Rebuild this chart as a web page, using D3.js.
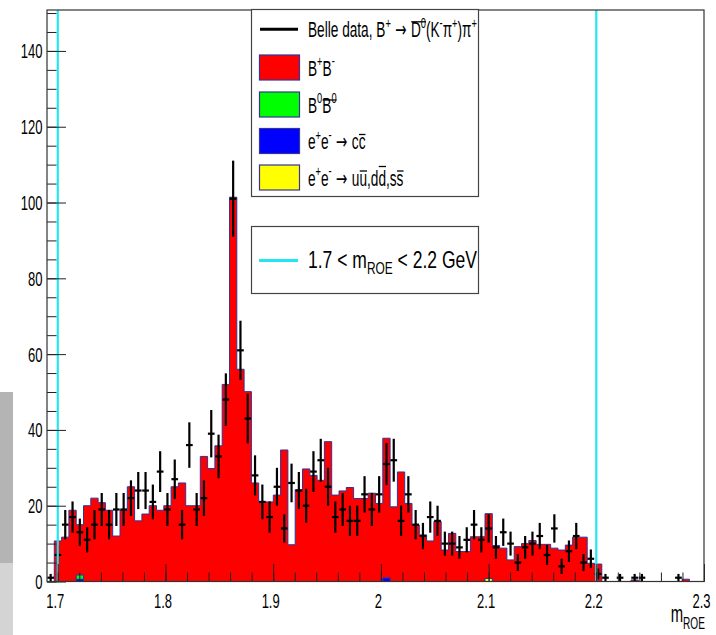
<!DOCTYPE html>
<html><head><meta charset="utf-8">
<script src="https://cdn.jsdelivr.net/npm/d3@7"></script>
<style>
body{margin:0;background:#fff;overflow:hidden}
text{font-family:"Liberation Sans",Arial,Helvetica,sans-serif;white-space:pre}
</style>
</head><body>
<svg id="c" width="716" height="635"></svg>
<script>
// ---------------- data ----------------
const xMin = 1.69, xMax = 2.30, nBins = 90, yMax = 150.8;
const dataCounts = [1,7,15,17,13,11,15,19,15,19, 19,22,24,24,21,29,19,27,15,36,
  19,22,39,33,48,101,61,43,28,21, 17,25,14,26,24,20,29,32,25,17,
  19,16,16,23,19,23,31,32,16,23, 15,12,17,16,10,10,9,11,15,11,
  14,9,13,10,5,9,10,12,7,14, 4,8,12,5,6,2,1,0,1,0,
  1,1,0,0,0,0,1,0,0,0];
const bpbm = [0,10.7,11.7,18.8,13.3,20,22,20.8,18.8,12, 18.8,25,16,17.8,20,18.8,20,25,26,20,
  20,33,29.8,35.8,52,101.4,56,50.1,26,21, 21,22.8,34.7,9.7,24.2,29.7,28,26.7,36.9,22.8,
  23.9,24.8,21.9,21.9,23.3,20.6,36.9,19.7,28.9,20.6, 14.9,12.3,10.7,15.8,8.3,12.7,7.9,7.9,11.8,11.8,
  17.1,9.5,8.8,5.7,9.2,10,10.8,9.8,9.8,8.8, 8.3,9.6,11.7,11.7,4.8,4.6,0,0,0,0,
  0.4,0,0,0,0,0,0,0.6,0,0];
const b0b0 = [0,0,0,0,1.1,0,0,0,0,0, 0,0,0,0,0,0,0,0,0,0, 0,0,0,0,0,0,0,0,0,0,
  0,0,0,0,0,0,0,0,0,0, 0,0,0,0,0,0,0,0,0,0, 0,0,0,0,0,0,0,0,0,0,
  0,0,0,0,0,0,0,0,0,0, 0,0,0,0,0,0,0,0,0,0, 0,0,0,0,0,0,0,0,0,0];
const ccbar = [0,0,0,0,0.6,0,0,0,0,0, 0,0,0,0,0,0,0,0,0,0, 0,0,0,0,0,0,0,0,0,0,
  0,0,0,0,0,0,0,0,0,0, 0,0,0,0,0,0,0.9,0,0,0, 0,0,0,0,0,0,0,0,0,0,
  0,0,0,0,0,0,0,0,0,0, 0,0,0,0,0,0,0,0,0,0, 0,0,0,0,0,0,0,0,0,0];
const uds = [0,0,0,0,0,0,0,0,0,0, 0,0,0,0,0,0,0,0,0,0, 0,0,0,0,0,0,0,0,0,0,
  0,0,0,0,0,0,0,0,0,0, 0,0,0,0,0,0,0,0,0,0, 0,0,0,0,0,0,0,0,0,0,
  0.8,0,0,0,0,0,0,0,0,0, 0,0,0,0,0,0,0,0,0,0, 0,0,0,0,0,0,0,0,0,0];
const xTickValues = [1.7,1.8,1.9,2.0,2.1,2.2,2.3];
const xTickLabels = ["1.7","1.8","1.9","2","2.1","2.2","2.3"];
const yTickValues = [0,20,40,60,80,100,120,140];
const yTickLabels = ["0","20","40","60","80","100","120","140"];
const cutLow = 1.7, cutHigh = 2.2;
const seriesNames = ["bpbm","b0b0","ccbar","uds"];
const seriesColors = {bpbm:"#ff0000", b0b0:"#00ff00", ccbar:"#0000ff", uds:"#ffff00"};
const ARROW = {t:" \u2192 ", font:"DejaVu Sans"};
const legendRows = [
  [{t:"Belle data, B"},{t:"+",sup:1},ARROW,{t:"D",bar:"a",bh:15.5},{t:"0",sup:1,bar:"a",bh:15.5},{t:"(K"},{t:"-",sup:1},{t:"\u03c0"},{t:"+",sup:1},{t:")\u03c0"},{t:"+",sup:1}],
  [{t:"B"},{t:"+",sup:1},{t:"B"},{t:"-",sup:1}],
  [{t:"B"},{t:"0",sup:1},{t:"B",bar:"b",bh:12.5},{t:"0",sup:1,bar:"b",bh:12.5}],
  [{t:"e"},{t:"+",sup:1},{t:"e"},{t:"-",sup:1},ARROW,{t:"c"},{t:"c",bar:"c",bh:14.5}],
  [{t:"e"},{t:"+",sup:1},{t:"e"},{t:"-",sup:1},ARROW,{t:"u"},{t:"u",bar:"d",bh:14.5},{t:",d"},{t:"d",bar:"e",bh:19},{t:",s"},{t:"s",bar:"f",bh:14.5}]
];
const cutLegend = [{t:"1.7 < m"},{t:"ROE",sub:1},{t:" < 2.2 GeV"}];
const axisTitle = [{t:"m"},{t:"ROE",sub:1}];

// ---------------- drawing ----------------
const svg = d3.select("#c");
const fx0 = 47, fx1 = 704, fy0 = 581.5, fy1 = 10;
const x = d3.scaleLinear().domain([xMin, xMax]).range([fx0, fx1]);
const y = d3.scaleLinear().domain([0, yMax]).range([fy0, fy1]);
const bw = (xMax - xMin) / nBins;
const edge = i => xMin + i * bw;

svg.append("rect").attr("width",716).attr("height",635).attr("fill","#fff");
svg.append("rect").attr("x",0).attr("y",392).attr("width",13).attr("height",171).attr("fill","#b4b4b4");
svg.append("rect").attr("x",0).attr("y",563).attr("width",13).attr("height",72).attr("fill","#d4d4d4");

// stack: bottom uds, ccbar, b0b0, top bpbm
const rows = d3.range(nBins).map(i => ({i, bpbm:bpbm[i], b0b0:b0b0[i], ccbar:ccbar[i], uds:uds[i]}));
const stack = d3.stack().keys(["uds","ccbar","b0b0","bpbm"])(rows);
const area = d3.area().x(d => x(d.x)).y0(y(0)).y1(d => y(d.v));
const line = d3.line().x(d => x(d.x)).y(d => y(d.v));
const histG = svg.append("g");
["bpbm","b0b0","ccbar","uds"].forEach(k => {
  const layer = stack.find(s => s.key === k);
  const pts = [];
  layer.forEach((d, i) => { pts.push({x:edge(i), v:d[1]}); pts.push({x:edge(i+1), v:d[1]}); });
  const full = [{x:xMin, v:0}].concat(pts).concat([{x:xMax, v:0}]);
  histG.append("path").attr("d", area(pts)).attr("fill", seriesColors[k]);
  histG.append("path").attr("d", line(full)).attr("fill","none").attr("stroke","#333399").attr("stroke-width",1);
});

// data points
const dG = svg.append("g").attr("stroke","#000").attr("stroke-width",2.2);
dataCounts.forEach((c, i) => {
  if (c <= 0) return;
  const e = Math.sqrt(c), xc = x(edge(i) + bw/2);
  dG.append("line").attr("x1",xc).attr("x2",xc).attr("y1",y(Math.max(0,c-e))).attr("y2",y(c+e));
  dG.append("line").attr("x1",x(edge(i))+0.3).attr("x2",x(edge(i+1))-0.3).attr("y1",y(c)).attr("y2",y(c));
});

// cut lines
[cutLow, cutHigh].forEach(v => {
  svg.append("line").attr("x1",x(v)).attr("x2",x(v)).attr("y1",fy1).attr("y2",fy0)
    .attr("stroke","#22e6f2").attr("stroke-width",2.2);
});

// axes (ticks inward)
const ax = svg.append("g").attr("transform",`translate(0,${fy0})`);
ax.call(d3.axisBottom(x).tickValues(x.ticks(30)).tickSizeInner(-9).tickSizeOuter(0).tickFormat(""));
ax.call(g => g.append("g").call(d3.axisBottom(x).tickValues(xTickValues).tickSizeInner(-17.5).tickSizeOuter(0).tickFormat("")));
const ay = svg.append("g").attr("transform",`translate(${fx0},0)`);
ay.call(d3.axisLeft(y).tickValues(y.ticks(30)).tickSizeInner(-9.5).tickSizeOuter(0).tickFormat(""));
ay.call(g => g.append("g").call(d3.axisLeft(y).tickValues(yTickValues).tickSizeInner(-19).tickSizeOuter(0).tickFormat("")));
svg.selectAll(".domain").remove();
svg.selectAll(".tick line").attr("stroke","#222").attr("stroke-width",1);
svg.append("rect").attr("x",fx0).attr("y",fy1).attr("width",fx1-fx0).attr("height",fy0-fy1)
  .attr("fill","none").attr("stroke","#333").attr("stroke-width",1.2);

// rich text helper
function rich(parent, segs, o) {
  const g = parent.append("g");
  const t = g.append("text").attr("x",0).attr("y",0).attr("font-size",o.fs).attr("fill","#000");
  let cur = 0; const spans = [];
  segs.forEach(s => {
    const off = s.sup ? -0.42*o.fs : s.sub ? 0.28*o.fs : 0;
    const ts = t.append("tspan").attr("dy", off - cur).attr("font-size", (s.sup||s.sub) ? 0.68*o.fs : o.fs).text(s.t);
    if (s.font) ts.style("font-family", s.font);
    cur = off; spans.push({node: ts.node(), s});
  });
  const w = t.node().getComputedTextLength();
  const sc = o.width ? o.width / w : o.scale;
  const bars = {};
  spans.forEach(({node, s}) => {
    if (!s.bar) return;
    const n = node.getNumberOfChars();
    const a = node.getStartPositionOfChar(0).x, b = node.getEndPositionOfChar(n-1).x;
    if (!bars[s.bar]) bars[s.bar] = {a, b, h: s.bh}; else { bars[s.bar].a = Math.min(bars[s.bar].a, a); bars[s.bar].b = Math.max(bars[s.bar].b, b); }
  });
  Object.values(bars).forEach(bb => {
    g.append("line").attr("x1",bb.a+0.5).attr("x2",bb.b).attr("y1",-bb.h).attr("y2",-bb.h).attr("stroke","#000").attr("stroke-width",1.3);
  });
  const tx = o.anchor === "end" ? o.x - w*sc : o.anchor === "middle" ? o.x - w*sc/2 : o.x;
  g.attr("transform", `translate(${tx},${o.y}) scale(${sc},1)`);
  return g;
}

// tick labels
const lblG = svg.append("g");
const tfs = 21, tsc = 0.62;
xTickValues.forEach((v, k) => rich(lblG, [{t:xTickLabels[k]}], {fs:tfs, scale:tsc, x:x(v)-2.5, y:608, anchor:"middle"}));
yTickValues.forEach((v, k) => rich(lblG, [{t:yTickLabels[k]}], {fs:tfs, scale:tsc, x:42.5, y:y(v)+7.5, anchor:"end"}));
rich(svg, axisTitle, {fs:24, scale:tsc, x:705, y:622, anchor:"end"});

// legend 1
const L = svg.append("g");
L.append("rect").attr("x",251.5).attr("y",9.5).attr("width",227).attr("height",187).attr("fill","#fff").attr("stroke","#444").attr("stroke-width",1.2);
const rowY = [29.3, 67.5, 104.5, 141, 177.5];
L.append("line").attr("x1",260).attr("x2",298).attr("y1",rowY[0]).attr("y2",rowY[0]).attr("stroke","#000").attr("stroke-width",3);
seriesNames.forEach((k, j) => {
  L.append("rect").attr("x",259.5).attr("y",rowY[j+1]-12.5).attr("width",40).attr("height",25)
    .attr("fill",seriesColors[k]).attr("stroke","#333399").attr("stroke-width",1.2);
});
const lfs = 22;
const g0 = rich(L, legendRows[0], {fs:lfs, width:169, x:308, y:rowY[0]+8});
const lsc = +g0.attr("transform").match(/scale\(([\d.]+)/)[1];
for (let j = 1; j < 5; j++) rich(L, legendRows[j], {fs:lfs, scale:lsc, x:308, y:rowY[j]+8});

// legend 2
const L2 = svg.append("g");
L2.append("rect").attr("x",251.5).attr("y",226.5).attr("width",227).attr("height",67).attr("fill","#fff").attr("stroke","#444").attr("stroke-width",1.2);
L2.append("line").attr("x1",259).attr("x2",298).attr("y1",260.5).attr("y2",260.5).attr("stroke","#22e6f2").attr("stroke-width",3);
rich(L2, cutLegend, {fs:23, width:169, x:308, y:268});
</script>
</body></html>
